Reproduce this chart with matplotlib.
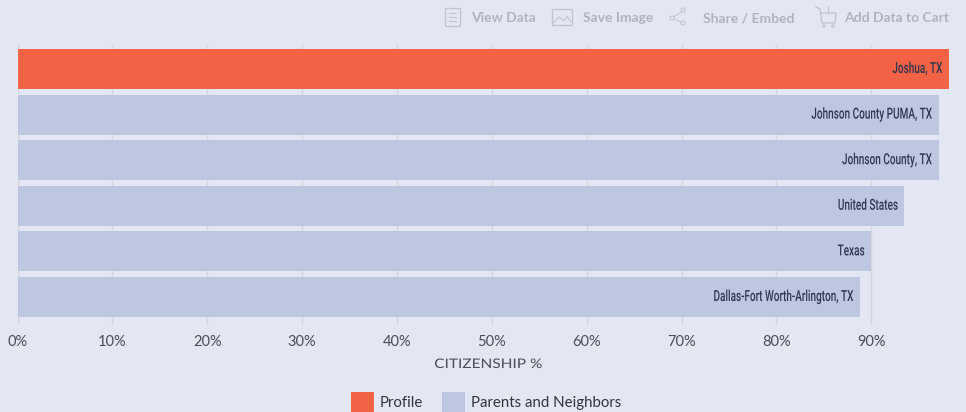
import matplotlib
matplotlib.use("Agg")
import matplotlib.pyplot as plt
from matplotlib.patches import Rectangle, Circle
from matplotlib.patheffects import AbstractPathEffect
from matplotlib.transforms import Affine2D

# donnees
places = ["Joshua, TX", "Johnson County PUMA, TX", "Johnson County, TX", "United States", "Texas", "Dallas-Fort Worth-Arlington, TX"]
citizenship = [98.2, 97.1, 97.1, 93.5, 90.0, 88.8]
is_profile = [True, False, False, False, False, False]
ticks = [0, 10, 20, 30, 40, 50, 60, 70, 80, 90]
tick_labels = ["0%", "10%", "20%", "30%", "40%", "50%", "60%", "70%", "80%", "90%"]
toolbar = ["View Data", "Save Image", "Share / Embed", "Add Data to Cart"]
legend_names = ["Profile", "Parents and Neighbors"]

BG = "#e3e7f3"
ORANGE = "#f46245"
BLUE = "#bec7e0"
GRID = "#d5d6dc"
W, H = 966, 412


# pas de police condensee installee : on resserre le texte a l'affichage
class Stretch(AbstractPathEffect):
    def __init__(self, sx, x0):
        super().__init__()
        self.sx = sx
        self.x0 = x0

    def draw_path(self, renderer, gc, tpath, affine, rgbFace=None):
        t = affine + Affine2D().translate(-self.x0, 0).scale(self.sx, 1).translate(self.x0, 0)
        renderer.draw_path(gc, tpath, t, rgbFace)


fig = plt.figure(figsize=(W/100, H/100), dpi=100, facecolor=BG)
# axe principal, placé en pixels
ax = fig.add_axes([17.5/W, 1-325/H, (949-17.5)/W, (325-45)/H], facecolor=BG)
ax.set_xlim(0, citizenship[0])
ax.set_ylim(5.614, -0.526)

colors = [ORANGE if p else BLUE for p in is_profile]
ax.barh(range(len(places)), citizenship, height=0.877, color=colors, zorder=2)
for i in range(len(places)):
    x_end = ax.transData.transform((citizenship[i], 0))[0] - 6.5
    x_data = ax.transData.inverted().transform((x_end, 0))[0]
    txt = ax.text(x_data, i, places[i], ha="right", va="center", fontsize=11,
                  family="Roboto", weight="medium", color="#2f3650", zorder=3)
    txt.set_path_effects([Stretch(0.655, x_end)])

ax.set_xticks(ticks)
ax.set_xticklabels(tick_labels, fontsize=10.5, color="#4a4d57", family="Lato")
ax.set_yticks([])
ax.tick_params(axis="x", length=0, pad=7)
ax.grid(axis="x", color=GRID, linewidth=1, zorder=1)
ax.set_axisbelow(True)
for s in ax.spines.values():
    s.set_visible(False)
xt = fig.text(488.5/W, 1-364/H, "CITIZENSHIP %", ha="center", va="center", fontsize=9.5,
              color="#4a4d57", family="Lato")
xt.set_path_effects([Stretch(1.17, 488.5)])

# calque en pixels pour la barre d'outils et la legende
ov = fig.add_axes([0, 0, 1, 1], facecolor="none")
ov.set_xlim(0, W)
ov.set_ylim(H, 0)
ov.axis("off")

tool_x = [471, 583, 703, 844]
for i in range(len(toolbar)):
    ov.text(tool_x[i], 18, toolbar[i], ha="left", va="center", fontsize=10, weight="bold",
            color="#b2b4bc", family="Lato")

ICON = "#c3c5cc"
ov.add_patch(Rectangle((445, 8), 15, 18, fill=False, ec=ICON, lw=1))
for y in [13, 17, 21]:
    ov.plot([449, 456], [y, y], color=ICON, lw=0.8)
ov.add_patch(Rectangle((552, 9), 20, 16, fill=False, ec=ICON, lw=1))
ov.plot([553, 559, 564, 567, 571], [23, 17, 21, 16, 22], color=ICON, lw=0.8)
ov.plot([683, 672, 683], [11, 18, 23], color=ICON, lw=0.8)
for cx, cy in [(683, 10), (672, 18), (683, 23)]:
    ov.add_patch(Circle((cx, cy), 2, fc=BG, ec=ICON, lw=0.8, zorder=3))
ov.plot([816, 820, 822, 835, 836, 822], [7, 9, 23, 23, 13, 13], color=ICON, lw=1)
ov.plot([828, 828], [6, 12], color=ICON, lw=0.8)
ov.add_patch(Circle((824, 26), 1.3, fc=BG, ec=ICON, lw=0.8))
ov.add_patch(Circle((833, 26), 1.3, fc=BG, ec=ICON, lw=0.8))

# legende
ov.add_patch(Rectangle((351, 392), 23, 22, fc=ORANGE, ec="none"))
ov.add_patch(Rectangle((442, 392), 23, 22, fc=BLUE, ec="none"))
ov.text(380, 403, legend_names[0], va="center", fontsize=10.8, color="#33353d", family="Lato")
ov.text(471, 403, legend_names[1], va="center", fontsize=10.8, color="#33353d", family="Lato")

fig.savefig("out.png", dpi=100, facecolor=BG)
